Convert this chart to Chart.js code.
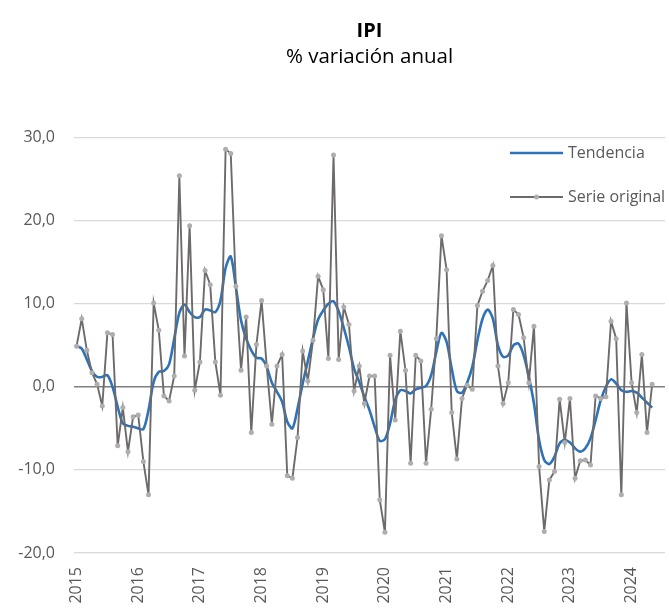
<!DOCTYPE html>
<html>
<head>
<meta charset="utf-8">
<script src="https://cdn.jsdelivr.net/npm/chart.js@4.4.1/dist/chart.umd.min.js"></script>
<style>
html,body{margin:0;padding:0;background:#ffffff;}
#wrap{width:669px;height:610px;position:relative;}
</style>
</head>
<body>
<div id="wrap"><canvas id="c" width="669" height="610"></canvas></div>
<script>
// ---- Data ----
const years = ['2015','2016','2017','2018','2019','2020','2021','2022','2023','2024'];
const months = ['01','02','03','04','05','06','07','08','09','10','11','12'];
const monthsShown = 115; // axis runs Jan 2015 .. Jul 2024

const serieOriginal = [
  4.9, 8.2, 4.4, 1.7, 0.3, -2.3, 6.5, 6.3, -7.1, -2.5, -7.8, -3.6,
  -3.4, -9.0, -13.0, 10.1, 6.8, -1.1, -1.7, 1.3, 25.4, 3.7, 19.4, -0.4,
  3.0, 14.0, 12.3, 3.0, -1.0, 28.6, 28.1, 12.1, 2.0, 8.4, -5.5, 5.1,
  10.4, 2.5, -4.5, 2.5, 3.9, -10.7, -11.0, -6.1, 4.3, 0.7, 5.6, 13.3,
  11.7, 3.4, 27.9, 3.3, 9.6, 7.5, -0.5, 2.5, -2.0, 1.3, 1.3, -13.6,
  -17.5, 3.8, -4.0, 6.7, 2.0, -9.2, 3.8, 3.1, -9.2, -2.7, 5.8, 18.2,
  14.1, -3.1, -8.7, -1.4, 0.2, -0.3, 9.8, 11.5, 12.8, 14.6, 2.5, -2.0,
  0.5, 9.3, 8.7, 5.9, 0.5, 7.3, -9.6, -17.4, -11.2, -10.2, -1.5, -6.7,
  -1.4, -11.0, -8.9, -8.8, -9.4, -1.1, -1.4, -1.2, 7.9, 5.8, -13.0, 10.1,
  0.5, -3.1, 3.9, -5.5, 0.3
];

const tendencia = [
  4.9, 4.6, 3.3, 1.9, 1.2, 1.2, 1.4, 0.0, -2.4, -4.4, -4.7, -4.8,
  -5.0, -5.1, -2.8, 0.6, 1.8, 1.9, 2.7, 5.8, 8.9, 9.9, 9.0, 8.4,
  8.4, 9.3, 9.2, 9.0, 10.4, 14.3, 15.7, 12.0, 8.0, 5.8, 4.4, 3.5,
  3.4, 2.4, 0.5, -0.6, -1.8, -4.2, -5.0, -2.6, 0.4, 3.1, 5.8, 8.1,
  9.2, 10.0, 10.3, 9.1, 7.1, 4.8, 2.2, 0.6, -1.2, -2.8, -4.8, -6.5,
  -6.3, -4.4, -1.6, -0.4, -0.5, -0.8, -0.3, -0.1, 0.1, 1.4, 4.2, 6.5,
  5.4, 2.2, -0.5, -0.7, 0.5, 2.4, 5.6, 8.2, 9.3, 8.2, 5.0, 3.6,
  3.8, 5.0, 5.2, 3.8, 1.2, -2.0, -6.4, -8.8, -9.3, -8.4, -6.8, -6.4,
  -6.7, -7.4, -7.8, -7.4, -6.2, -4.0, -1.6, 0.0, 0.9, 0.4, -0.4, -0.6,
  -0.5, -0.7, -1.3, -1.9, -2.5
];

const yTicks = [-20, -10, 0, 10, 20, 30];
const titleText = 'IPI';
const subtitleText = '% variación anual';
const seriesNames = ['Tendencia', 'Serie original'];

// ---- build category labels ----
const categories = [];
years.forEach(y => months.forEach(m => categories.push(y + '-' + m)));
categories.length = monthsShown;

const FONT = "'Open Sans', 'DejaVu Sans', sans-serif";
const BLUE = '#2E72B8';
const GRAY_LINE = '#6E6A6A';
const GRAY_DOT = '#B0ADAD';

// ---- custom legend drawn inside the plot, top right ----
const insideLegend = {
  id: 'insideLegend',
  afterDraw(chart) {
    const ctx = chart.ctx;
    ctx.save();
    ctx.font = '16px ' + FONT;
    ctx.fillStyle = '#595959';
    ctx.textBaseline = 'middle';
    ctx.textAlign = 'left';
    ctx.strokeStyle = BLUE; ctx.lineWidth = 2.5;
    ctx.beginPath(); ctx.moveTo(510, 153); ctx.lineTo(563, 153); ctx.stroke();
    ctx.fillText(seriesNames[0], 568, 153);
    ctx.strokeStyle = GRAY_LINE; ctx.lineWidth = 2;
    ctx.beginPath(); ctx.moveTo(510, 197); ctx.lineTo(563, 197); ctx.stroke();
    ctx.fillStyle = GRAY_DOT;
    ctx.beginPath(); ctx.arc(536.5, 197, 2.5, 0, Math.PI * 2); ctx.fill();
    ctx.fillStyle = '#595959';
    ctx.fillText(seriesNames[1], 568, 197);
    ctx.restore();
  }
};

new Chart(document.getElementById('c'), {
  type: 'line',
  data: {
    labels: categories,
    datasets: [
      {
        label: seriesNames[0],
        data: tendencia,
        borderColor: BLUE,
        backgroundColor: BLUE,
        borderWidth: 2.6,
        pointRadius: 0,
        tension: 0.3,
        fill: false,
        order: 1
      },
      {
        label: seriesNames[1],
        data: serieOriginal,
        borderColor: GRAY_LINE,
        backgroundColor: GRAY_DOT,
        borderWidth: 1.9,
        pointRadius: 2.5,
        pointBackgroundColor: GRAY_DOT,
        pointBorderColor: GRAY_DOT,
        pointBorderWidth: 0,
        tension: 0,
        fill: false,
        order: 0
      }
    ]
  },
  options: {
    responsive: false,
    animation: false,
    layout: { padding: { top: 0, left: 0, right: 0, bottom: 0 } },
    plugins: {
      legend: { display: false },
      tooltip: { enabled: false },
      title: {
        display: true,
        text: titleText,
        fullSize: false,
        color: '#000000',
        font: { family: FONT, size: 20, weight: 'bold', lineHeight: 1.2 },
        padding: { top: 19, bottom: 2 }
      },
      subtitle: {
        display: true,
        text: subtitleText,
        fullSize: false,
        color: '#000000',
        font: { family: FONT, size: 20.5, weight: 'normal', lineHeight: 1.2 },
        padding: { top: 0, bottom: 68 }
      }
    },
    scales: {
      x: {
        type: 'category',
        offset: true,
        border: { display: false },
        grid: { display: false, drawTicks: false },
        afterFit(scale) {
          scale.height = 57;
          scale.paddingLeft = 0;
          scale.paddingRight = 0;
        },
        ticks: {
          autoSkip: false,
          minRotation: 90,
          maxRotation: 90,
          padding: 14,
          color: '#595959',
          font: { family: FONT, size: 16 },
          callback: function (val, index) {
            return index % 12 === 0 ? years[index / 12] : '';
          }
        }
      },
      y: {
        min: yTicks[0],
        max: yTicks[yTicks.length - 1],
        border: { display: false },
        afterFit(scale) { scale.width = 74; },
        afterBuildTicks(scale) { scale.ticks = yTicks.map(v => ({ value: v })); },
        grid: {
          drawTicks: false,
          color: ctx => (ctx.tick && ctx.tick.value === 0) ? '#7F7F7F' : '#D9D9D9',
          lineWidth: ctx => (ctx.tick && ctx.tick.value === 0) ? 1.6 : 1.2
        },
        ticks: {
          padding: 19,
          color: '#595959',
          font: { family: FONT, size: 16 },
          callback: v => v.toFixed(1).replace('.', ',')
        }
      }
    }
  },
  plugins: [insideLegend]
});
</script>
</body>
</html>
